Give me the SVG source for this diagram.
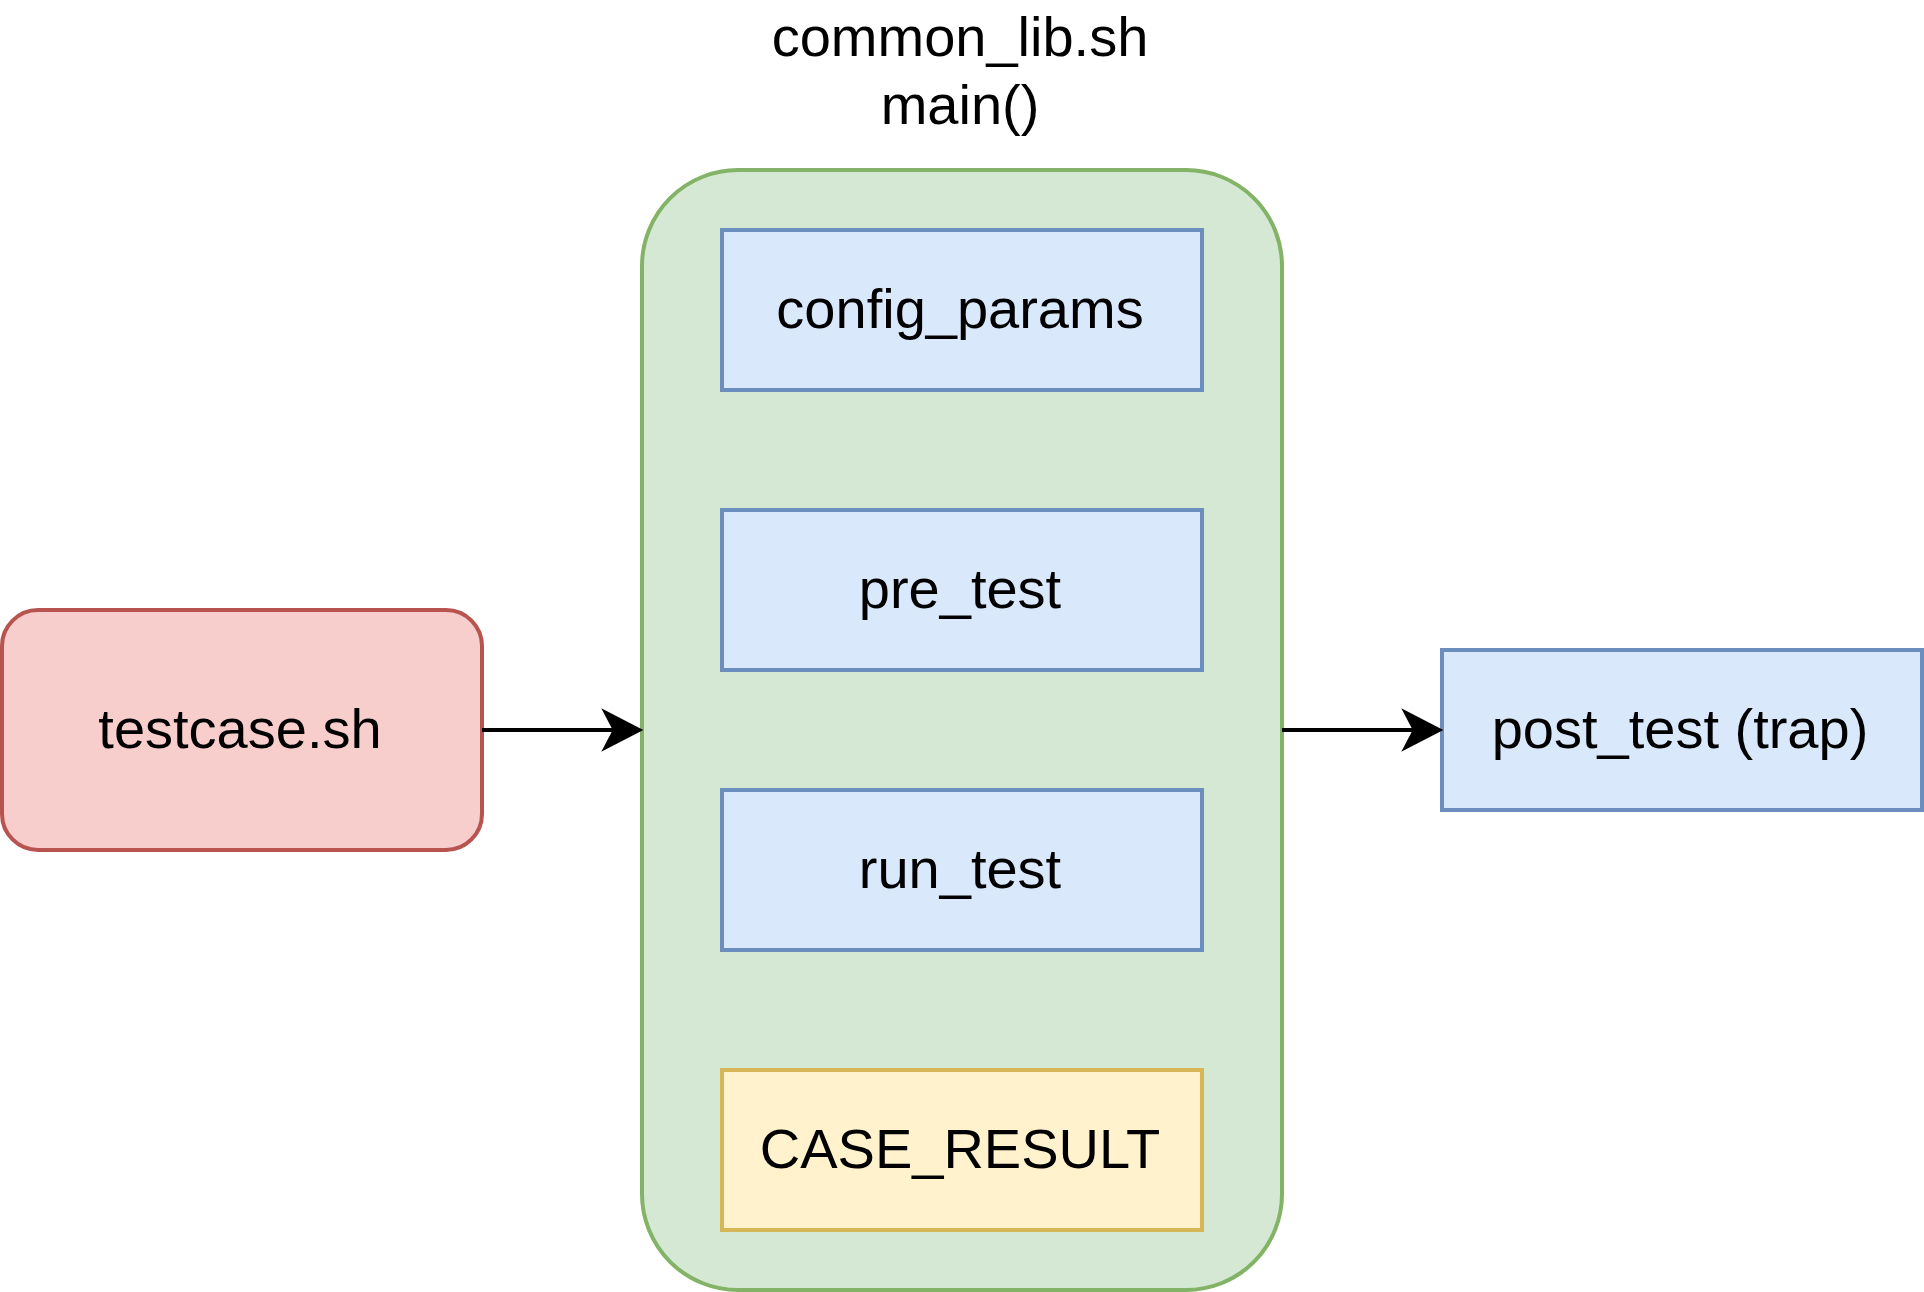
<svg xmlns="http://www.w3.org/2000/svg" width="1924" height="1292" viewBox="0 0 1924 1292">
<style>
text{font-family:"Liberation Sans",Arial,sans-serif;font-size:56px;fill:#000;text-anchor:middle}
.blue{fill:#dae8fc;stroke:#6c8ebf;stroke-width:4}
.yellow{fill:#fff2cc;stroke:#d6b656;stroke-width:4}
.green{fill:#d5e8d4;stroke:#82b366;stroke-width:4}
.red{fill:#f8cecc;stroke:#b85450;stroke-width:4}
.edge{stroke:#000;stroke-width:4;fill:none}
.head{fill:#000;stroke:#000;stroke-width:4}
</style>
<rect width="1924" height="1292" fill="#fff"/>
<g id="main">
<rect class="green" x="642" y="170" width="640" height="1120" rx="96" ry="96"/>
<text x="960" y="56">common_lib.sh</text>
<text x="960" y="124">main()</text>
</g>
<g id="config_params">
<rect class="blue" x="722" y="230" width="480" height="160"/>
<text x="960" y="328">config_params</text>
</g>
<g id="pre_test">
<rect class="blue" x="722" y="510" width="480" height="160"/>
<text x="960" y="608">pre_test</text>
</g>
<g id="run_test">
<rect class="blue" x="722" y="790" width="480" height="160"/>
<text x="960" y="888">run_test</text>
</g>
<g id="case_result">
<rect class="yellow" x="722" y="1070" width="480" height="160"/>
<text x="960" y="1168">CASE_RESULT</text>
</g>
<g id="testcase">
<rect class="red" x="2" y="610" width="480" height="240" rx="36" ry="36"/>
<text x="240" y="748">testcase.sh</text>
</g>
<g id="post_test">
<rect class="blue" x="1442" y="650" width="480" height="160"/>
<text x="1680" y="748">post_test (trap)</text>
</g>
<g id="connectors">
<line class="edge" x1="482" y1="730" x2="614" y2="730"/>
<path class="head" d="M639,730 L606,713 L615,730 L606,747 Z"/>
<line class="edge" x1="1282" y1="730" x2="1414" y2="730"/>
<path class="head" d="M1439,730 L1406,713 L1415,730 L1406,747 Z"/>
</g>
</svg>
